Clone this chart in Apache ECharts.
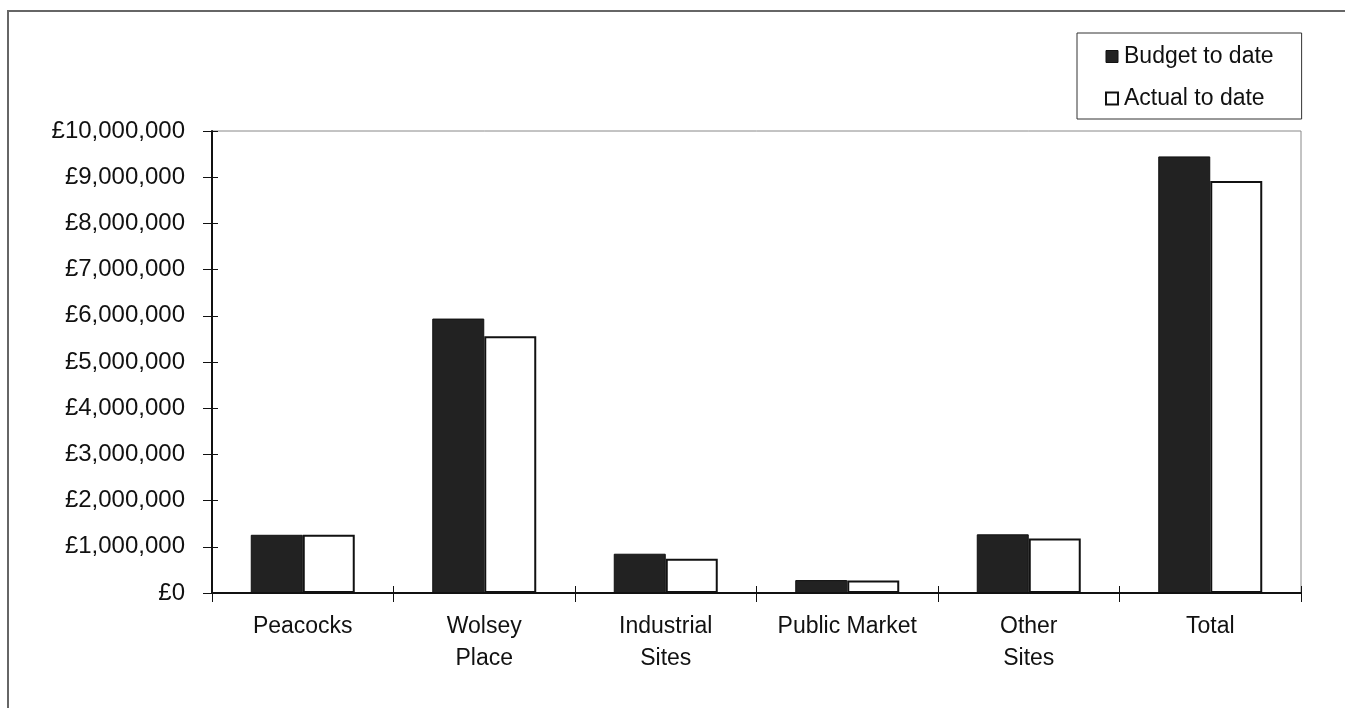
<!DOCTYPE html>
<html>
<head>
<meta charset="utf-8">
<script src="https://cdn.jsdelivr.net/npm/echarts@6/dist/echarts.min.js"></script>
<style>
  html, body { margin: 0; padding: 0; background: #fff; }
  #chart { width: 1345px; height: 708px; }
</style>
</head>
<body>
<div id="chart"></div>
<script>
var categories = ['Peacocks', 'Wolsey\nPlace', 'Industrial\nSites', 'Public Market', 'Other\nSites', 'Total'];
var budgetToDate = [1260000, 5940000, 850000, 280000, 1270000, 9450000];
var actualToDate = [1260000, 5560000, 740000, 270000, 1180000, 8920000];
var yTicks = { min: 0, max: 10000000, interval: 1000000 };

function pounds(v) {
    return '£' + String(v).replace(/\B(?=(\d{3})+(?!\d))/g, ',');
}

var dom = document.getElementById('chart');
var myChart = echarts.init(dom);
var font = 'Liberation Sans, Arial, sans-serif';

var option = {
    animation: false,
    backgroundColor: '#fff',
    textStyle: { fontFamily: font },
    graphic: [
        // outer chart frame (left and top edges visible)
        { type: 'polyline', shape: { points: [[8, 708], [8, 11], [1345, 11]] },
          style: { stroke: '#666', lineWidth: 2, fill: null } }
    ],
    legend: {
        orient: 'vertical',
        left: 1077,
        top: 33,
        padding: [12, 28, 9, 28],
        itemGap: 19,
        itemWidth: 12,
        itemHeight: 12,
        borderColor: '#333',
        borderWidth: 1,
        textStyle: { fontSize: 23, color: '#111', fontFamily: font, padding: [0, 0, 0, 1] },
        data: [
            { name: 'Budget to date', icon: 'rect', itemStyle: { color: '#222', borderColor: '#111', borderWidth: 1 } },
            { name: 'Actual to date', icon: 'rect', itemStyle: { color: '#fff', borderColor: '#111', borderWidth: 2 } }
        ]
    },
    grid: {
        left: 212, right: 44, top: 131, bottom: 115,
        show: true, borderColor: '#888', borderWidth: 1
    },
    xAxis: [
        {
            type: 'category',
            data: categories,
            axisLine: { lineStyle: { color: '#111', width: 2 } },
            axisTick: { show: true, length: 9, lineStyle: { color: '#111', width: 1 } },
            axisLabel: { fontSize: 23, color: '#111', fontFamily: font, margin: 18, lineHeight: 32, interval: 0 }
        },
        {
            type: 'category',
            data: categories,
            position: 'bottom',
            axisLine: { show: false },
            axisTick: { show: true, inside: true, length: 7, lineStyle: { color: '#111', width: 1 } },
            axisLabel: { show: false }
        }
    ],
    yAxis: [
        {
            type: 'value',
            min: yTicks.min,
            max: yTicks.max,
            interval: yTicks.interval,
            splitLine: { show: false },
            axisLine: { show: true, lineStyle: { color: '#111', width: 2 } },
            axisTick: { show: true, length: 9, lineStyle: { color: '#111', width: 1 } },
            axisLabel: { fontSize: 24, color: '#111', fontFamily: font, margin: 27, formatter: pounds }
        },
        {
            type: 'value',
            position: 'left',
            min: yTicks.min,
            max: yTicks.max,
            interval: yTicks.interval,
            splitLine: { show: false },
            axisLine: { show: false },
            axisTick: { show: true, inside: true, length: 6, lineStyle: { color: '#111', width: 1 } },
            axisLabel: { show: false }
        }
    ],
    series: [
        {
            name: 'Budget to date',
            type: 'bar',
            data: budgetToDate,
            barGap: '0%',
            barCategoryGap: '42.7%',
            itemStyle: { color: '#222', borderColor: '#111', borderWidth: 1 }
        },
        {
            name: 'Actual to date',
            type: 'bar',
            data: actualToDate,
            itemStyle: { color: '#fff', borderColor: '#111', borderWidth: 2 }
        }
    ]
};

if (option && typeof option === 'object') {
    myChart.setOption(option, true);
}
</script>
</body>
</html>
